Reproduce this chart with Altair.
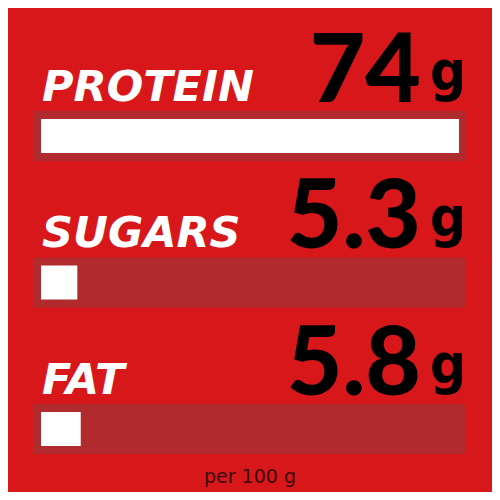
import altair as alt
import pandas as pd

# ---- data ----
nutrients = ["PROTEIN", "SUGARS", "FAT"]
values = [74, 5.3, 5.8]
unit = "g"
footnote = "per 100 g"
scale_max = 61  # bar scale maximum (values above are shown as a full bar)

df = pd.DataFrame({"nutrient": nutrients, "value": values, "unit": [unit] * len(nutrients)})
foot_df = pd.DataFrame({"t": [footnote]})

BG = "#d8171b"
TRACK = "#b02a2e"
NUM_FONT = "Lato, DejaVu Sans Condensed, sans-serif"
UNIT_FONT = "DejaVu Sans Condensed, DejaVu Sans, sans-serif"

yscale = alt.Scale(domain=nutrients, paddingInner=0.6587, paddingOuter=0)
xscale = alt.Scale(domain=[0, scale_max], clamp=True, nice=False, zero=True)

base = alt.Chart(df)

track = base.mark_rect(color=TRACK, xOffset=-8, x2Offset=7).encode(
    x=alt.XDatum(0, scale=xscale, axis=None),
    x2=alt.X2Datum(scale_max),
    y=alt.Y("nutrient:N", scale=yscale, axis=None),
)

fill = base.mark_bar(color="white", height=34).encode(
    x=alt.X("value:Q", scale=xscale, axis=None),
    y=alt.Y("nutrient:N", scale=yscale, axis=None),
)

labels = base.mark_text(
    align="left", baseline="alphabetic", font="DejaVu Sans", fontWeight="bold",
    fontStyle="italic", fontSize=43, color="white", dx=1, dy=-10,
).encode(
    x=alt.XDatum(0),
    y=alt.Y("nutrient:N", bandPosition=0),
    text="nutrient:N",
)

nums = base.mark_text(
    align="right", baseline="alphabetic", font=NUM_FONT,
    fontWeight=900, fontSize=96, color="black", dx=-38, dy=-9,
).encode(
    x=alt.XDatum(scale_max),
    y=alt.Y("nutrient:N", bandPosition=0),
    text=alt.Text("value:Q", format="~g"),
)

units = base.mark_text(
    align="left", baseline="alphabetic", font=UNIT_FONT,
    fontWeight="bold", fontSize=56, color="black", dx=-29, dy=-21,
).encode(
    x=alt.XDatum(scale_max),
    y=alt.Y("nutrient:N", bandPosition=0),
    text="unit:N",
)

foot = alt.Chart(foot_df).mark_text(
    align="center", baseline="alphabetic", font="DejaVu Sans", fontSize=19,
    color="#3b0b0b", dy=29,
).encode(
    x=alt.XDatum(scale_max / 2),
    y=alt.YDatum("FAT", bandPosition=1),
    text="t:N",
)

chart = alt.layer(track, fill, labels, nums, units, foot).properties(
    width=418,
    height=343,
    background=BG,
    padding={"left": 33, "top": 103, "right": 33, "bottom": 38},
    autosize=alt.AutoSizeParams(type="none"),
).configure_view(stroke=None)

chart.save("out.html", embed_options={"renderer": "svg", "actions": False})
